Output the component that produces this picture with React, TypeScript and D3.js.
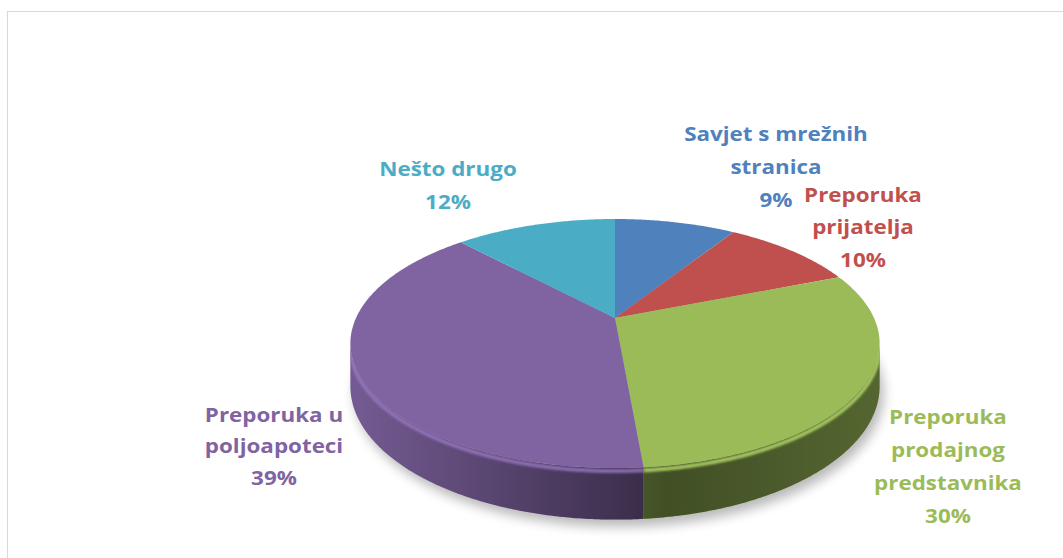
import React from 'react';
import * as d3 from 'd3';

// slices, clockwise from 12 o'clock (Excel order)
const categories = [
  'Savjet s mrežnih stranica',
  'Preporuka prijatelja',
  'Preporuka prodajnog predstavnika',
  'Preporuka u poljoapoteci',
  'Nešto drugo',
];
const values = [9, 10, 29.6, 39.4, 12];
const percentLabels = ['9%', '10%', '30%', '39%', '12%'];
const labelLines = [
  ['Savjet s mrežnih', 'stranica'],
  ['Preporuka', 'prijatelja'],
  ['Preporuka', 'prodajnog', 'predstavnika'],
  ['Preporuka u', 'poljoapoteci'],
  ['Nešto drugo'],
];
const colors = ['#4F81BD', '#C0504D', '#9BBB59', '#8064A2', '#4BACC6'];

// label anchor: centre x, first baseline, line step
const labelAnchor = [
  [776, 141, 33],
  [863, 202, 32.5],
  [948, 424, 33],
  [274, 422, 31.5],
  [448, 176, 33],
];

const W = 1063;
const H = 558;

// perspective disc
const CX = 615;
const CY = 318;
const R = 259;
const RY = 119.3;
const DIST = 4.88;
const DEPTH = 41;

const proj = (a: number, drop = 0): [number, number] => {
  const u = Math.sin(a);
  const v = -Math.cos(a);
  const s = DIST / (DIST - v);
  return [CX + R * u * s, CY + RY * v * s + DEPTH * s * drop];
};

const sample = (a0: number, a1: number, drop = 0) => {
  const n = Math.max(2, Math.ceil(Math.abs(a1 - a0) / 0.01));
  return d3.range(n + 1).map(i => proj(a0 + ((a1 - a0) * i) / n, drop));
};

const line = d3.line();
const visFrom = Math.acos(-1 / DIST);
const visTo = 2 * Math.PI - visFrom;

const App = () => {
  const arcs = d3.pie<number>().sort(null).value(d => d)(values);

  const tops = arcs.map(a => line([[CX, CY], ...sample(a.startAngle, a.endAngle)]) + 'Z');

  const clip = (a: d3.PieArcDatum<number>) => {
    const a0 = Math.max(a.startAngle, visFrom);
    const a1 = Math.min(a.endAngle, visTo);
    return a1 > a0 ? [a0, a1] : null;
  };

  const wallPath = (a0: number, a1: number) =>
    line([...sample(a0, a1), ...sample(a1, a0, 1)]) + 'Z';

  const walls = arcs.map(a => {
    const c = clip(a);
    return c ? wallPath(c[0], c[1]) : null;
  });

  const rims = arcs.map(a => {
    const c = clip(a);
    return c ? line(sample(c[0], c[1])) : null;
  });

  const shadow = line(sample(0, 2 * Math.PI, 1)) + 'Z';

  return (
    <svg width={W} height={H} style={{ position: 'absolute', left: 0, top: 0 }}>
      <defs>
        <linearGradient id="wallShade" gradientUnits="userSpaceOnUse" x1={CX - R} x2={CX + R} y1={0} y2={0}>
          <stop offset="0" stopColor="#000" stopOpacity={0.1} />
          <stop offset="0.45" stopColor="#000" stopOpacity={0.46} />
          <stop offset="0.6" stopColor="#000" stopOpacity={0.58} />
          <stop offset="1" stopColor="#000" stopOpacity={0.46} />
        </linearGradient>
        <clipPath id="wallClip">
          <path d={wallPath(visFrom, visTo)} />
        </clipPath>
        <filter id="soft" x="-20%" y="-20%" width="140%" height="140%">
          <feGaussianBlur stdDeviation="6" />
        </filter>
        <filter id="edge" x="-5%" y="-5%" width="110%" height="110%">
          <feGaussianBlur stdDeviation="1.3" />
        </filter>
      </defs>

      <rect x={7.5} y={11.5} width={W + 10} height={H + 10} fill="#fff" stroke="#d9d9d9" />

      <path d={shadow} transform="translate(4,7)" fill="#000" opacity={0.28} filter="url(#soft)" />

      {walls.map((d, i) =>
        d ? (
          <g key={'w' + i}>
            <path d={d} fill={colors[i]} />
            <path d={d} fill="url(#wallShade)" />
          </g>
        ) : null
      )}

      <g clipPath="url(#wallClip)">
        {rims.map((d, i) =>
          d ? (
            <path
              key={'r' + i}
              d={d}
              transform="translate(0,3)"
              fill="none"
              stroke={d3.color(colors[i])!.brighter(0.5).formatHex()}
              strokeOpacity={0.8}
              strokeWidth={4}
              filter="url(#edge)"
            />
          ) : null
        )}
      </g>

      {tops.map((d, i) => (
        <path key={'t' + i} d={d} fill={colors[i]} />
      ))}

      {categories.map((c, i) => {
        const [x, y0, step] = labelAnchor[i];
        const lines = [...labelLines[i], percentLabels[i]];
        return (
          <g
            key={c}
            transform={`translate(${x},0) scale(1.12,1)`}
            fill={colors[i]}
            fontFamily="'Open Sans', sans-serif"
            fontWeight={700}
            fontSize={20}
            textAnchor="middle"
          >
            {lines.map((t, j) => (
              <text key={j} x={0} y={y0 + j * step}>
                {t}
              </text>
            ))}
          </g>
        );
      })}
    </svg>
  );
};

export default App;
